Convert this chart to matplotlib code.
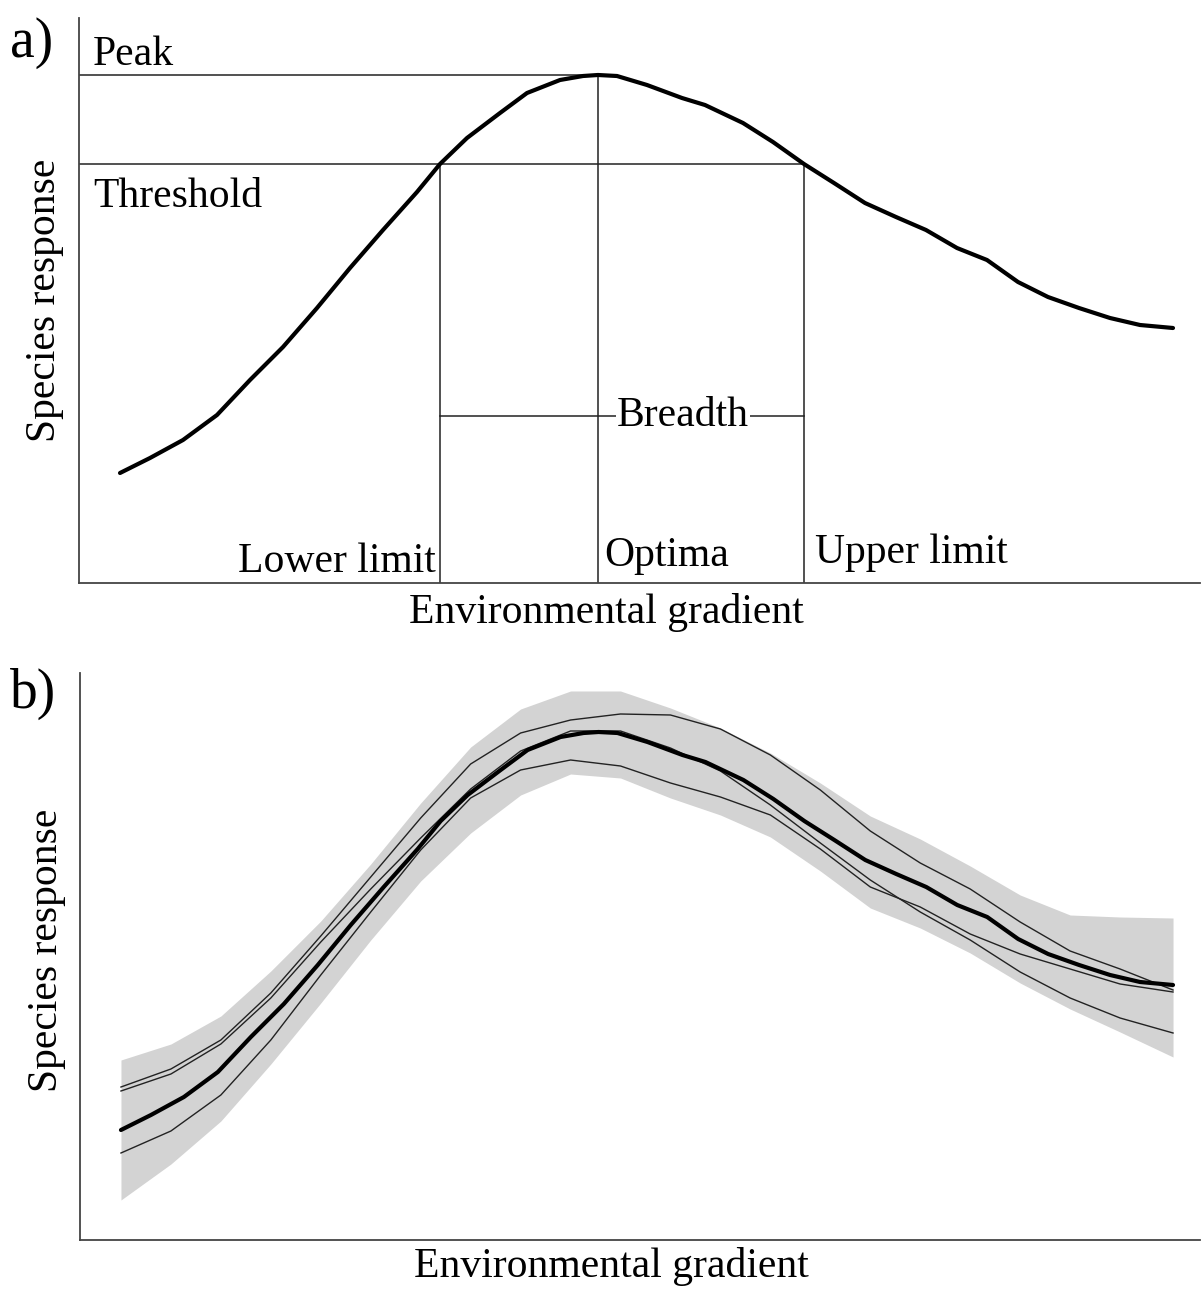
import matplotlib
matplotlib.use("Agg")
import matplotlib.pyplot as plt

plt.rcParams['font.family'] = ['Liberation Serif', 'DejaVu Serif']

# fitted response curve (same in both panels)
grad_x = [41, 71, 104, 138, 171, 204, 238, 271, 304, 338, 361, 388, 421, 448,
          481, 504, 519, 538, 568, 603, 626, 664, 694, 725, 755, 786, 817, 847,
          878, 908, 939, 969, 1000, 1031, 1061, 1094]
resp_mean = [110, 125, 143, 168, 203, 236, 275, 315, 353, 391, 419, 445, 470, 490,
             503, 507, 508, 507, 498, 485, 478, 460, 441, 419, 400, 380, 366, 353,
             335, 323, 301, 286, 275, 265, 258, 255]

# key points of panel a
peak = 508
threshold = 419
lower_limit = 361
optima = 519
upper_limit = 725
breadth_y = 167

# panel b: envelope and single model curves
grid_x = [41, 91, 141, 191, 241, 291, 341, 391, 441, 491, 541, 591, 641, 691,
          741, 791, 841, 891, 941, 991, 1041, 1094]
band_hi = [180, 196, 224, 269, 319, 376, 437, 493, 531, 549, 549, 532, 512, 487,
           457, 424, 401, 374, 345, 325, 323, 322]
band_lo = [40, 76, 119, 176, 237, 300, 359, 407, 445, 466, 462, 442, 425, 403,
           369, 332, 312, 287, 257, 231, 208, 183]
model_a = [153, 171, 200, 247, 304, 363, 422, 476, 507, 520, 526, 525, 511, 485,
           450, 409, 377, 351, 318, 289, 271, 250]
model_b = [149, 166, 196, 242, 298, 351, 402, 451, 489, 509, 509, 492, 469, 435,
           397, 360, 328, 300, 268, 242, 222, 207]
model_c = [87, 109, 145, 200, 265, 328, 390, 442, 470, 480, 474, 457, 443, 425,
           391, 353, 333, 306, 286, 271, 256, 248]

W, H = 1201, 1289
fig = plt.figure(figsize=(W / 100, H / 100), dpi=100)

ax1 = fig.add_axes([79 / W, 1 - 583 / H, 1121 / W, 565 / H])
ax2 = fig.add_axes([80 / W, 1 - 1240 / H, 1120 / W, 567 / H])

for ax, top in ((ax1, 565), (ax2, 567)):
    ax.set_xlim(0, 1121)
    ax.set_ylim(0, top)
    ax.set_xticks([])
    ax.set_yticks([])
    for s in ('top', 'right'):
        ax.spines[s].set_visible(False)
    for s in ('left', 'bottom'):
        ax.spines[s].set_color('#444444')
        ax.spines[s].set_linewidth(1.3)

fs = 30
lc = '#222222'
lw_thin = 1.1

# ---- panel a
ax1.plot(grad_x, resp_mean, color='black', lw=3.0, solid_capstyle='round', zorder=3)
ax1.plot([0, optima], [peak, peak], color=lc, lw=lw_thin)
ax1.plot([0, upper_limit], [threshold, threshold], color=lc, lw=lw_thin)
ax1.plot([lower_limit, lower_limit], [0, threshold], color=lc, lw=lw_thin)
ax1.plot([optima, optima], [0, peak], color=lc, lw=lw_thin)
ax1.plot([upper_limit, upper_limit], [0, threshold], color=lc, lw=lw_thin)
ax1.plot([lower_limit, upper_limit], [breadth_y, breadth_y], color=lc, lw=lw_thin)

ax1.text(14, 518, 'Peak', fontsize=fs, va='baseline')
ax1.text(14, 376, 'Threshold', fontsize=fs, va='baseline')
ax1.text(lower_limit - 4, 11, 'Lower limit', fontsize=fs, va='baseline', ha='right')
ax1.text(optima + 6, 17, 'Optima', fontsize=fs, va='baseline')
ax1.text(upper_limit + 11, 20, 'Upper limit', fontsize=fs, va='baseline')
ax1.text(604, breadth_y, 'Breadth', fontsize=fs, va='center', ha='center',
         bbox=dict(fc='white', ec='none', pad=1))

# ---- panel b
ax2.fill_between(grid_x, band_lo, band_hi, color='#d3d3d3', lw=0, zorder=1)
for m in (model_a, model_b, model_c):
    ax2.plot(grid_x, m, color=lc, lw=1.0, zorder=2)
ax2.plot(grad_x, resp_mean, color='black', lw=3.0, solid_capstyle='round', zorder=3)

# labels
fig.text(45 / W, 1 - 300 / H, 'Species response', fontsize=fs, rotation=90,
         ha='center', va='center')
fig.text(47 / W, 1 - 950 / H, 'Species response', fontsize=fs, rotation=90,
         ha='center', va='center')
fig.text(606 / W, 1 - 612 / H, 'Environmental gradient', fontsize=fs,
         ha='center', va='center')
fig.text(611 / W, 1 - 1266 / H, 'Environmental gradient', fontsize=fs,
         ha='center', va='center')
fig.text(10 / W, 1 - 57 / H, 'a)', fontsize=40, va='baseline')
fig.text(10 / W, 1 - 708 / H, 'b)', fontsize=40, va='baseline')

fig.savefig('out.png', dpi=100)
